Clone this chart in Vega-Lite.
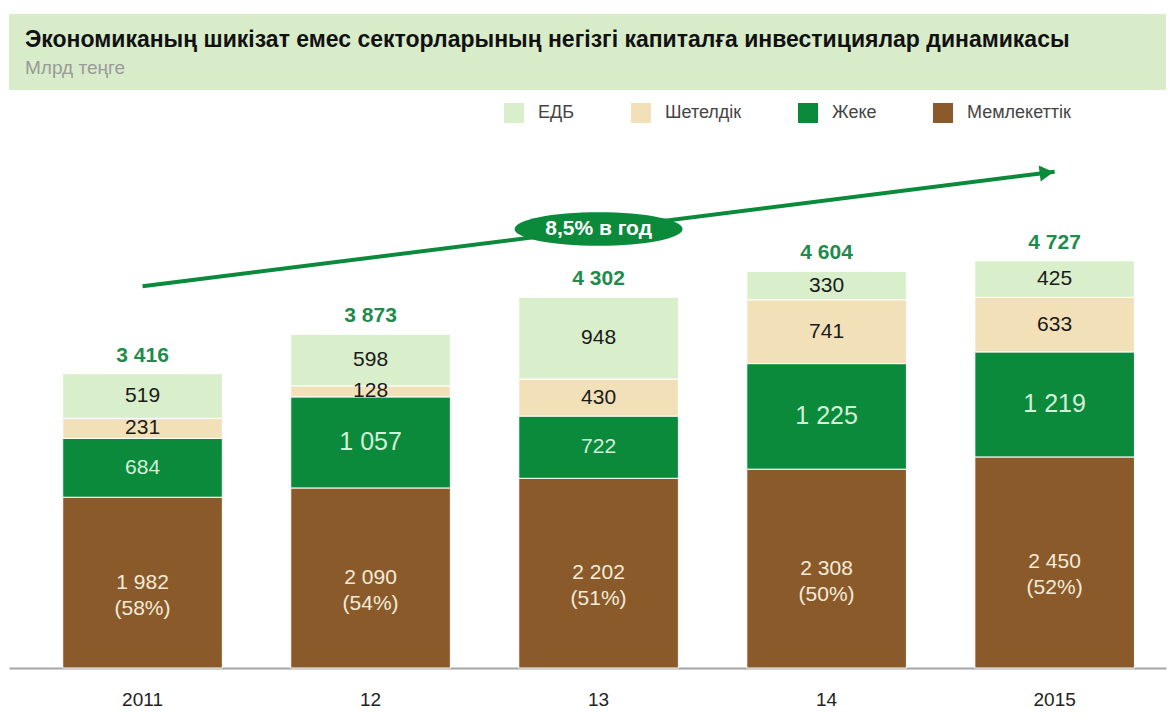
{
  "$schema": "https://vega.github.io/schema/vega-lite/v6.json",
  "background": "white",
  "padding": {"top": 14, "left": 9, "right": 4, "bottom": 0},
  "spacing": 18,
  "config": {"view": {"stroke": null}, "font": "Liberation Sans"},
  "datasets": {
    "bars": [
      {"year": "2011", "category": "Мемлекеттік", "value": 1982, "label": "1 982\n(58%)"},
      {"year": "2011", "category": "Жеке", "value": 684, "label": "684"},
      {"year": "2011", "category": "Шетелдік", "value": 231, "label": "231"},
      {"year": "2011", "category": "ЕДБ", "value": 519, "label": "519"},
      {"year": "12", "category": "Мемлекеттік", "value": 2090, "label": "2 090\n(54%)"},
      {"year": "12", "category": "Жеке", "value": 1057, "label": "1 057"},
      {"year": "12", "category": "Шетелдік", "value": 128, "label": "128"},
      {"year": "12", "category": "ЕДБ", "value": 598, "label": "598"},
      {"year": "13", "category": "Мемлекеттік", "value": 2202, "label": "2 202\n(51%)"},
      {"year": "13", "category": "Жеке", "value": 722, "label": "722"},
      {"year": "13", "category": "Шетелдік", "value": 430, "label": "430"},
      {"year": "13", "category": "ЕДБ", "value": 948, "label": "948"},
      {"year": "14", "category": "Мемлекеттік", "value": 2308, "label": "2 308\n(50%)"},
      {"year": "14", "category": "Жеке", "value": 1225, "label": "1 225"},
      {"year": "14", "category": "Шетелдік", "value": 741, "label": "741"},
      {"year": "14", "category": "ЕДБ", "value": 330, "label": "330"},
      {"year": "2015", "category": "Мемлекеттік", "value": 2450, "label": "2 450\n(52%)"},
      {"year": "2015", "category": "Жеке", "value": 1219, "label": "1 219"},
      {"year": "2015", "category": "Шетелдік", "value": 633, "label": "633"},
      {"year": "2015", "category": "ЕДБ", "value": 425, "label": "425"}
    ],
    "cats": [
      {"category": "Мемлекеттік", "rank": 1},
      {"category": "Жеке", "rank": 2},
      {"category": "Шетелдік", "rank": 3},
      {"category": "ЕДБ", "rank": 4}
    ],
    "totals": [
      {"year": "2011", "total": 3416, "label": "3 416"},
      {"year": "12", "total": 3873, "label": "3 873"},
      {"year": "13", "total": 4302, "label": "4 302"},
      {"year": "14", "total": 4604, "label": "4 604"},
      {"year": "2015", "total": 4727, "label": "4 727"}
    ],
    "trend": [
      {"year": "2011", "v": 4430},
      {"year": "2015", "v": 5760}
    ],
    "badge": [
      {"year": "13", "v": 5095, "label": "8,5% в год"}
    ]
  },
  "vconcat": [
    {
      "width": 1157,
      "height": 76,
      "view": {"fill": "#d8ecca", "stroke": null},
      "data": {"values": [{"t": ""}]},
      "mark": {"type": "text"},
      "encoding": {"text": {"field": "t", "type": "nominal"}},
      "title": {
        "text": "Экономиканың шикізат емес секторларының негізгі капиталға инвестициялар динамикасы",
        "subtitle": "Млрд теңге",
        "anchor": "start",
        "frame": "group",
        "offset": -64,
        "dx": 16,
        "font": "Liberation Sans",
        "fontSize": 23,
        "fontWeight": "bold",
        "color": "#111111",
        "subtitleFont": "Liberation Sans",
        "subtitleFontSize": 19,
        "subtitleColor": "#9a9a9a",
        "subtitlePadding": 7
      }
    },
    {
      "width": 1157,
      "height": 560,
      "encoding": {
        "x": {
          "field": "year",
          "type": "nominal",
          "scale": {"domain": ["2011", "12", "13", "14", "2015"], "paddingInner": 0.3, "paddingOuter": 0.187, "align": 0.63},
          "axis": {"title": null, "labelAngle": 0, "ticks": false, "domainColor": "#a5a5a5", "domainWidth": 2, "labelFont": "Liberation Sans", "labelFontSize": 19, "labelColor": "#222222", "labelPadding": 22, "grid": false}
        }
      },
      "layer": [
        {
          "data": {"name": "bars"},
          "transform": [{"lookup": "category", "from": {"data": {"name": "cats"}, "key": "category", "fields": ["rank"]}}],
          "mark": {"type": "bar", "stroke": "white", "strokeWidth": 1},
          "encoding": {
            "y": {"field": "value", "type": "quantitative", "stack": "zero", "scale": {"domain": [0, 6440]}, "axis": null},
            "order": {"field": "rank", "type": "quantitative", "sort": "ascending"},
            "color": {
              "field": "category",
              "type": "nominal",
              "scale": {"domain": ["ЕДБ", "Шетелдік", "Жеке", "Мемлекеттік"], "range": ["#d9eecb", "#f2e0b9", "#0b8a3c", "#8a5a2b"]},
              "legend": {
                "title": null,
                "orient": "none",
                "legendX": 495,
                "legendY": 89,
                "direction": "horizontal",
                "symbolType": "square",
                "symbolSize": 400,
                "symbolStrokeWidth": 0,
                "symbolOpacity": 1,
                "labelFont": "Liberation Sans",
                "labelFontSize": 18,
                "labelColor": "#444444",
                "labelOffset": 14,
                "columnPadding": 56,
                "values": ["ЕДБ", "Шетелдік", "Жеке", "Мемлекеттік"]
              }
            }
          }
        },
        {
          "data": {"name": "bars"},
          "transform": [{"lookup": "category", "from": {"data": {"name": "cats"}, "key": "category", "fields": ["rank"]}}],
          "mark": {"type": "text", "baseline": "middle", "align": "center", "lineBreak": "\n", "lineHeight": 26, "font": "Liberation Sans"},
          "encoding": {
            "y": {"field": "value", "type": "quantitative", "stack": "zero", "bandPosition": 0.5},
            "detail": {"field": "category", "type": "nominal"},
            "order": {"field": "rank", "type": "quantitative", "sort": "ascending"},
            "text": {"field": "label", "type": "nominal"},
            "color": {
              "condition": [
                {"test": "datum.category === 'Мемлекеттік'", "value": "#f4ecd9"},
                {"test": "datum.category === 'Жеке'", "value": "#d3f0d9"}
              ],
              "value": "#1a1a1a"
            },
            "size": {
              "condition": [
                {"test": "datum.category === 'Жеке' && datum.value >= 1000", "value": 25},
                {"test": "datum.category === 'Мемлекеттік'", "value": 21}
              ],
              "value": 21
            }
          }
        },
        {
          "data": {"name": "totals"},
          "mark": {"type": "text", "baseline": "middle", "align": "center", "dy": -18, "fontSize": 21, "fontWeight": "bold", "color": "#1f8b4c"},
          "encoding": {
            "y": {"field": "total", "type": "quantitative"},
            "text": {"field": "label", "type": "nominal"}
          }
        },
        {
          "data": {"name": "trend"},
          "mark": {"type": "line", "color": "#0b8a3c", "strokeWidth": 4},
          "encoding": {
            "y": {"field": "v", "type": "quantitative"}
          }
        },
        {
          "data": {"name": "trend"},
          "transform": [{"filter": "datum.year === '2015'"}],
          "mark": {"type": "point", "shape": "triangle-right", "filled": true, "size": 260, "angle": -7, "color": "#0b8a3c", "opacity": 1, "xOffset": -8, "yOffset": 1},
          "encoding": {
            "y": {"field": "v", "type": "quantitative"}
          }
        },
        {
          "data": {"name": "badge"},
          "mark": {"type": "point", "shape": "M -1 0 A 1 0.2 0 1 1 1 0 A 1 0.2 0 1 1 -1 0 Z", "filled": true, "size": 28224, "color": "#0b8a3c", "opacity": 1},
          "encoding": {
            "y": {"field": "v", "type": "quantitative"}
          }
        },
        {
          "data": {"name": "badge"},
          "mark": {"type": "text", "baseline": "middle", "align": "center", "fontSize": 21, "fontWeight": "bold", "color": "white"},
          "encoding": {
            "y": {"field": "v", "type": "quantitative"},
            "text": {"field": "label", "type": "nominal"}
          }
        }
      ]
    }
  ]
}
